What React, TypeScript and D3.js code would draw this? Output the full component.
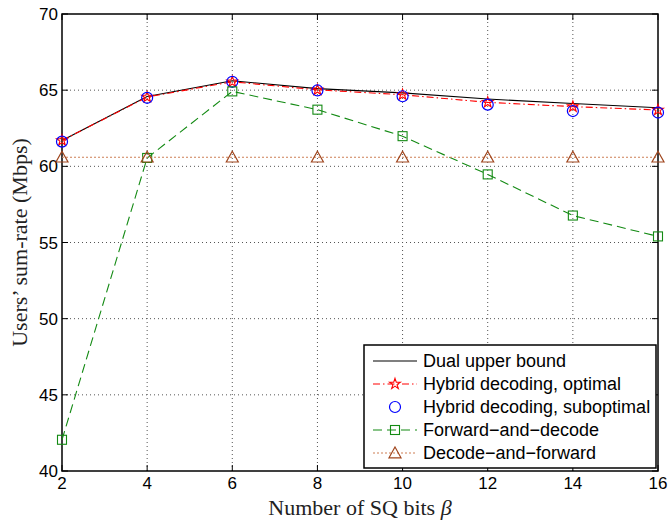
import { useRef, useEffect } from 'react';
import * as d3 from 'd3';

// Chart data
const bits = [2, 4, 6, 8, 10, 12, 14, 16];
const dualUpper = [61.7, 64.58, 65.62, 65.1, 64.82, 64.42, 64.12, 63.85];
const hybridOpt = [61.7, 64.55, 65.55, 65.02, 64.7, 64.2, 63.92, 63.7];
const hybridSub = [61.62, 64.5, 65.55, 64.98, 64.6, 64.05, 63.63, 63.53];
const fwdDecode = [42.05, 60.55, 64.92, 63.72, 61.98, 59.47, 56.77, 55.4];
const decFwd = [60.6, 60.6, 60.6, 60.6, 60.6, 60.6, 60.6, 60.6];
const xTicks = [2, 4, 6, 8, 10, 12, 14, 16];
const yTicks = [40, 45, 50, 55, 60, 65, 70];
const legendLabels = [
  'Dual upper bound',
  'Hybrid decoding, optimal',
  'Hybrid decoding, suboptimal',
  'Forward\u2212and\u2212decode',
  'Decode\u2212and\u2212forward',
];

type Series = {
  values: number[];
  color: string;
  markerColor: string;
  dash: string | null;
  line: boolean;
  marker: string | null;
};

const series: Series[] = [
  { values: dualUpper, color: '#000000', markerColor: '#000000', dash: null, line: true, marker: null },
  { values: hybridOpt, color: '#ff0000', markerColor: '#ff0000', dash: '7,3,1.5,3', line: true, marker: 'star' },
  { values: hybridSub, color: '#0000ff', markerColor: '#0000ff', dash: null, line: false, marker: 'circle' },
  { values: fwdDecode, color: '#138a13', markerColor: '#138a13', dash: '9,5', line: true, marker: 'square' },
  { values: decFwd, color: '#cd7f55', markerColor: '#a0461e', dash: '2,2', line: true, marker: 'triangle' },
];

const W = 669;
const H = 521;
const margin = { left: 62, right: 11, top: 14, bottom: 50 };

function drawMarker(g: any, kind: string, x: number, y: number, color: string) {
  if (kind === 'circle') {
    g.append('circle').attr('cx', x).attr('cy', y).attr('r', 5.5)
      .attr('fill', 'none').attr('stroke', color).attr('stroke-width', 1.2);
  } else if (kind === 'square') {
    g.append('rect').attr('x', x - 4.5).attr('y', y - 4.5).attr('width', 9).attr('height', 9)
      .attr('fill', 'none').attr('stroke', color).attr('stroke-width', 1.1);
  } else if (kind === 'triangle') {
    const s = 6;
    g.append('path')
      .attr('d', `M${x},${y - s}L${x + s},${y + s * 0.8}L${x - s},${y + s * 0.8}Z`)
      .attr('fill', 'none').attr('stroke', color).attr('stroke-width', 1.2);
  } else if (kind === 'star') {
    g.append('path')
      .attr('d', d3.symbol(d3.symbolStar, 36)())
      .attr('transform', `translate(${x},${y})`)
      .attr('fill', 'none').attr('stroke', color).attr('stroke-width', 1.1);
  }
}

function Chart() {
  const ref = useRef<SVGSVGElement>(null);

  useEffect(() => {
    const svg = d3.select(ref.current);
    svg.selectAll('*').remove();

    const x = d3.scaleLinear().domain([2, 16]).range([margin.left, W - margin.right]);
    const y = d3.scaleLinear().domain([40, 70]).range([H - margin.bottom, margin.top]);
    const [x0, x1] = x.range();
    const [y0, y1] = y.range();

    // Grid
    const grid = svg.append('g');
    xTicks.slice(1, -1).forEach(t => {
      grid.append('line').attr('x1', x(t)).attr('x2', x(t)).attr('y1', y0).attr('y2', y1)
        .attr('stroke', '#555').attr('stroke-width', 1).attr('stroke-dasharray', '1,3');
    });
    yTicks.slice(1, -1).forEach(t => {
      grid.append('line').attr('x1', x0).attr('x2', x1).attr('y1', y(t)).attr('y2', y(t))
        .attr('stroke', '#555').attr('stroke-width', 1).attr('stroke-dasharray', '1,3');
    });

    // Axes (ticks inside, box on all sides)
    const tickLen = 6;
    const axes = svg.append('g');
    axes.append('rect').attr('x', x0).attr('y', y1).attr('width', x1 - x0).attr('height', y0 - y1)
      .attr('fill', 'none').attr('stroke', '#000').attr('stroke-width', 1.5);
    xTicks.forEach(t => {
      axes.append('line').attr('x1', x(t)).attr('x2', x(t)).attr('y1', y0).attr('y2', y0 - tickLen).attr('stroke', '#000');
      axes.append('line').attr('x1', x(t)).attr('x2', x(t)).attr('y1', y1).attr('y2', y1 + tickLen).attr('stroke', '#000');
      axes.append('text').attr('x', x(t)).attr('y', y0 + 18).attr('text-anchor', 'middle')
        .attr('font-family', 'Liberation Sans, Arial, sans-serif').attr('font-size', 17)
        .text(t);
    });
    yTicks.forEach(t => {
      axes.append('line').attr('x1', x0).attr('x2', x0 + tickLen).attr('y1', y(t)).attr('y2', y(t)).attr('stroke', '#000');
      axes.append('line').attr('x1', x1).attr('x2', x1 - tickLen).attr('y1', y(t)).attr('y2', y(t)).attr('stroke', '#000');
      axes.append('text').attr('x', x0 - 4).attr('y', y(t) + 6).attr('text-anchor', 'end')
        .attr('font-family', 'Liberation Sans, Arial, sans-serif').attr('font-size', 17)
        .text(t);
    });

    // Axis titles
    svg.append('text').attr('x', (x0 + x1) / 2).attr('y', H - 6).attr('text-anchor', 'middle')
      .attr('font-family', 'Liberation Serif, Times New Roman, serif').attr('font-size', 22)
      .attr('fill', '#222')
      .text('Number of SQ bits ')
      .append('tspan').attr('font-style', 'italic').text('\u03b2');
    svg.append('text')
      .attr('transform', `translate(${27},${(y0 + y1) / 2}) rotate(-90)`)
      .attr('text-anchor', 'middle')
      .attr('font-family', 'Liberation Serif, Times New Roman, serif').attr('font-size', 22)
      .attr('fill', '#222')
      .text('Users\u2019 sum-rate (Mbps)');

    // Series
    const lineGen = d3.line<number>().x((d, i) => x(bits[i])).y(d => y(d));
    series.forEach(s => {
      const g = svg.append('g');
      if (s.line) {
        g.append('path').attr('d', lineGen(s.values))
          .attr('fill', 'none').attr('stroke', s.color).attr('stroke-width', 1.1)
          .attr('stroke-dasharray', s.dash ?? null);
      }
      if (s.marker) {
        s.values.forEach((v, i) => drawMarker(g, s.marker as string, x(bits[i]), y(v), s.markerColor));
      }
    });

    // Legend
    const lg = svg.append('g');
    const lx = 364, ly = 345, lw = 292, lh = 123;
    lg.append('rect').attr('x', lx).attr('y', ly).attr('width', lw).attr('height', lh)
      .attr('fill', '#fff').attr('stroke', '#000').attr('stroke-width', 1.5);
    legendLabels.forEach((label, i) => {
      const s = series[i];
      const ry = ly + 16 + i * 23;
      if (s.line) {
        lg.append('line').attr('x1', lx + 9).attr('x2', lx + 53).attr('y1', ry).attr('y2', ry)
          .attr('stroke', s.color).attr('stroke-width', 1.1)
          .attr('stroke-dasharray', s.dash ?? null);
      }
      if (s.marker) drawMarker(lg, s.marker, lx + 31, ry, s.markerColor);
      lg.append('text').attr('x', lx + 59).attr('y', ry + 6)
        .attr('font-family', 'Liberation Sans, Arial, sans-serif').attr('font-size', 18)
        .text(label);
    });
  }, []);

  return <svg ref={ref} width={W} height={H} style={{ display: 'block' }} />;
}

export default function App() {
  return (
    <div style={{ position: 'absolute', left: 0, top: 0, background: '#fff' }}>
      <Chart />
    </div>
  );
}
